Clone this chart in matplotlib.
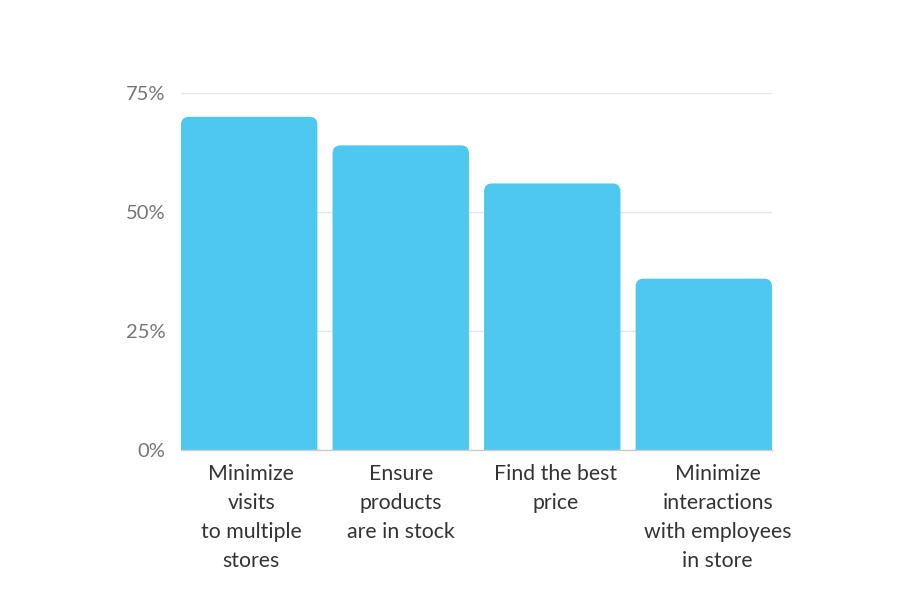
import numpy as np
import matplotlib.pyplot as plt
from matplotlib.patches import FancyBboxPatch
from matplotlib.transforms import ScaledTranslation

plt.rcParams['font.family'] = ['Lato', 'DejaVu Sans']

categories = ["Minimize\nvisits\nto multiple\nstores",
              "Ensure\nproducts\nare in stock",
              "Find the best\nprice",
              "Minimize\ninteractions\nwith employees\nin store"]
values = [70, 64, 56, 36]
yticks = [0, 25, 50, 75]
ytick_labels = ["0%", "25%", "50%", "75%"]

color = "#4fc8f0"

fig = plt.figure(figsize=(9, 6), dpi=100)
ax = fig.add_axes([181/900, 150/600, (772-181)/900, (450-93)/600])

x = np.arange(len(categories))
width = 0.9
ax.set_xlim(-0.45, len(categories) - 0.55)
ax.set_ylim(0, 75)

# pixels per data unit, to keep corners round
px_x = (772 - 181) / (len(categories) - 0.1)
px_y = (450 - 93) / 75
radius = 8 / px_x
aspect = px_x / px_y

for xi, v in zip(x, values):
    p = FancyBboxPatch((xi - width/2, -10), width, v + 10,
                       boxstyle="round,pad=0,rounding_size=%f" % radius,
                       mutation_aspect=aspect, facecolor=color,
                       edgecolor="none", zorder=3)
    ax.add_patch(p)

ax.set_yticks(yticks)
ax.set_yticklabels(ytick_labels, fontsize=14.5, color="#757575")
ax.set_xticks(x)
ax.set_xticklabels(categories, fontsize=15.3, color="#333333", linespacing=1.56, va="top")
ax.tick_params(axis="y", length=0, pad=11)
ax.tick_params(axis="x", length=0, pad=10)

# labels in the original sit a little right of bar centres
shifts = [2, 0, 3, 14]
for lab, dx in zip(ax.get_xticklabels(), shifts):
    lab.set_transform(lab.get_transform() + ScaledTranslation(dx/100, 0, fig.dpi_scale_trans))

ax.grid(axis="y", color="#e6e6e6", linewidth=1, zorder=0)
for s in ["top", "right", "left"]:
    ax.spines[s].set_visible(False)
ax.spines["bottom"].set_color("#cccccc")
ax.spines["bottom"].set_linewidth(1)
ax.spines["bottom"].set_zorder(4)

fig.savefig("out.png", dpi=100)
